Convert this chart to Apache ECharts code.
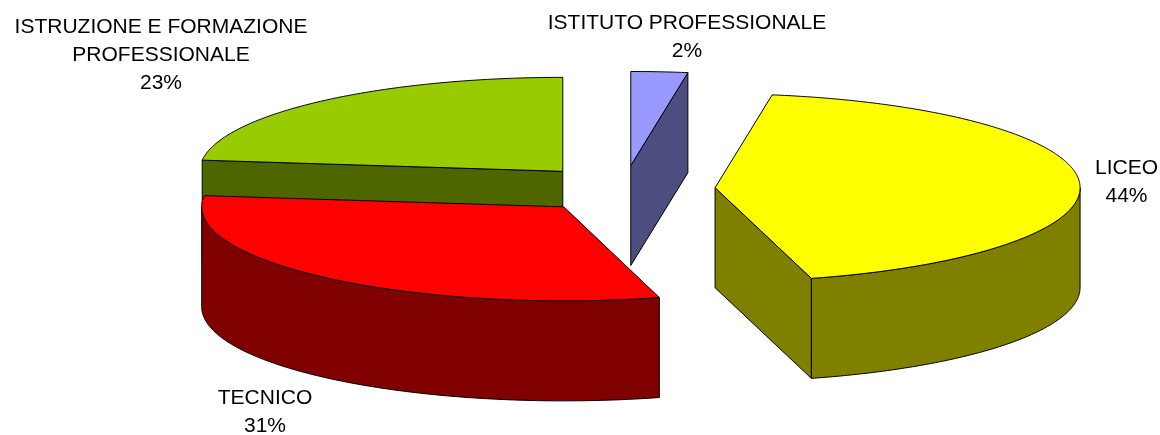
<!DOCTYPE html>
<html><head><meta charset="utf-8">
<style>html,body{margin:0;padding:0;background:#fff}#c{width:1160px;height:435px}</style>
<script src="https://cdn.jsdelivr.net/npm/echarts@6/dist/echarts.min.js"></script>
</head><body><div id="c"></div>
<script>
// Data (share of total, clockwise from 12 o'clock)
var categories = ['ISTITUTO PROFESSIONALE', 'LICEO', 'TECNICO', 'ISTRUZIONE E FORMAZIONE\nPROFESSIONALE'];
var shares = [2.5, 43.25, 31.15, 23.1];
var shownPercent = ['2%', '44%', '31%', '23%'];

// Styling and pie geometry, separate from the data
var topColors = ['#9999FF', '#FFFF00', '#FF0000', '#99CC00'];
var wallColors = ['#4D4D80', '#808000', '#800000', '#4D6600'];
var labelCentres = [[687, 9], [1126.5, 154], [265, 384], [161, 13]];
var radiusScale = [1, 1, 0.992, 0.995];
var pie = { cx: 623.6, cy: 189, rx: 365, ry: 94, depth: 100, explode: 0.251 };

var total = shares.reduce(function (a, b) { return a + b; }, 0);
var RAD = Math.PI / 180;

function at(c, deg, dy, s) {
  return [c[0] + s * pie.rx * Math.sin(deg * RAD), c[1] - pie.ry * Math.cos(deg * RAD) + (dy || 0)];
}
function arc(c, a, b, dy, s) {
  var pts = [], n = Math.max(2, Math.ceil(Math.abs(b - a) * 2));
  for (var i = 0; i <= n; i++) pts.push(at(c, a + (b - a) * i / n, dy, s));
  return pts;
}
function poly(points, fill, z2) {
  return { type: 'polygon', shape: { points: points }, z2: z2,
    style: { fill: fill, stroke: '#000', lineWidth: 1, lineJoin: 'round' } };
}

function renderItem(params, api) {
  var i = params.dataIndex, before = 0, s = radiusScale[i];
  for (var k = 0; k < i; k++) before += shares[k];
  var a0 = before / total * 360, a1 = (before + api.value(1)) / total * 360, mid = (a0 + a1) / 2;
  var c = [pie.cx + pie.explode * pie.rx * Math.sin(mid * RAD),
           pie.cy - pie.explode * pie.ry * Math.cos(mid * RAD)];
  var d = pie.depth, z = Math.round(c[1]) * 10, kids = [];
  var cd = [c[0], c[1] + d];

  // radial walls that face the viewer
  if (a0 > 180 && a0 < 360) kids.push(poly([c, at(c, a0, 0, s), at(c, a0, d, s), cd], wallColors[i], z));
  if (a1 > 0 && a1 < 180) kids.push(poly([c, at(c, a1, 0, s), at(c, a1, d, s), cd], wallColors[i], z));
  // outer rim wall, front half only
  var w0 = Math.max(a0, 90), w1 = Math.min(a1, 270);
  if (w1 > w0) {
    kids.push(poly(arc(c, w0, w1, 0, s).concat(arc(c, w1, w0, d, s)), wallColors[i], z + 1));
  }
  // top face
  kids.push(poly([c].concat(arc(c, a0, a1, 0, s)), topColors[i], z + 2));
  // label
  kids.push({ type: 'text', z2: 9000, style: {
    text: categories[i] + '\n' + shownPercent[i],
    x: labelCentres[i][0], y: labelCentres[i][1],
    align: 'center', verticalAlign: 'top',
    fontFamily: '"Liberation Sans", Arial, sans-serif', fontSize: 21, lineHeight: 28, fill: '#000'
  } });
  return { type: 'group', children: kids };
}

var chart = echarts.init(document.getElementById('c'), null, { renderer: 'canvas' });
chart.setOption({
  animation: false,
  backgroundColor: '#fff',
  series: [{
    type: 'custom',
    coordinateSystem: 'none',
    renderItem: renderItem,
    silent: true,
    data: categories.map(function (name, i) { return { name: name, value: [i, shares[i]] }; })
  }]
});
</script></body></html>
